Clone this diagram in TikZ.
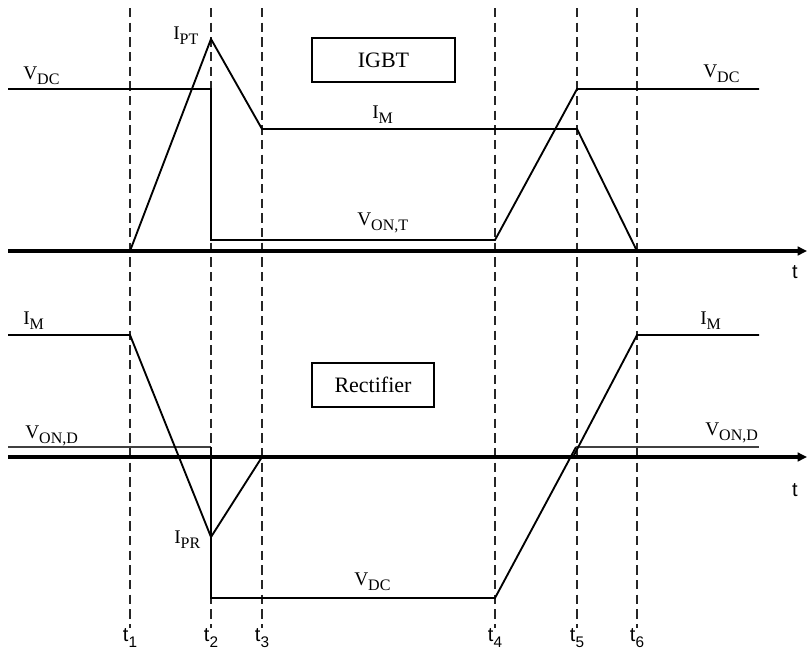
\documentclass[tikz,border=0pt]{standalone}
\usepackage{fontspec}
\setmainfont{Liberation Serif}
\setsansfont{Liberation Sans}
\usetikzlibrary{arrows.meta,positioning}

\newcommand{\sgn}[2]{#1\raisebox{-3.8pt}{\fontsize{12}{12}\selectfont #2}}
\newcommand{\tin}[1]{\textsf{t\raisebox{-4.5pt}{\fontsize{11.5}{11.5}\selectfont #1}}}

\tikzset{
  wave/.style={line width=1.4pt,line join=miter},
  vond/.style={line width=1.1pt,draw=black!75},
  axis/.style={line width=2.6pt,-{Triangle[length=7pt,width=6.5pt]}},
  guide/.style={line width=0.9pt,dash pattern=on 7pt off 4pt,draw=black!85},
  lbl/.style={inner sep=0pt,anchor=base west,font=\fontsize{14.5}{14.5}\selectfont},
  tlbl/.style={inner sep=0pt,font=\fontsize{15}{15}\selectfont\sffamily},
  devbox/.style={draw,line width=0.9pt,inner sep=0pt,font=\fontsize{16.5}{16.5}\selectfont}
}

\begin{document}
\begin{tikzpicture}[x=0.75pt,y=-0.75pt]
\useasboundingbox (0,0) rectangle (807,654);

\foreach \n/\x in {1/130,2/211,3/262,4/495,5/577,6/637}{
  \draw[guide] (\x,8) -- (\x,628);
  \node[tlbl] (t\n) at (\x,638) {\tin{\n}};
}

% IGBT
\draw[axis] (8,251) -- (807,251);
\node[tlbl] (tup) at (795,272) {t};
\draw[wave] (8,89) -- (211,89) -- (211,240) -- (495,240) -- (577,89) -- (759,89);
\draw[wave] (130,251) -- (211,39) -- (262,129) -- (577,129) -- (637,251);
\node[devbox,minimum width=143*0.75pt,minimum height=44*0.75pt] (igbt) at (383.5,60) {IGBT};
\node[lbl] (vdcl) at (23,79) {\sgn{V}{DC}};
\node[lbl] (vdcr) at (703,77) {\sgn{V}{DC}};
\node[lbl] (ipt) at (173,39) {\sgn{I}{PT}};
\node[lbl] (imt) at (372,118) {\sgn{I}{M}};
\node[lbl] (vont) at (357,225) {\sgn{V}{ON,T}};

% Rectifier
\draw[axis] (8,457) -- (807,457);
\node[tlbl] (tdn) at (795,490) {t};
\draw[vond] (8,447) -- (211,447);
\draw[wave] (211,447) -- (211,598) -- (495,598) -- (576,447);
\draw[vond] (576,447) -- (759,447);
\draw[wave] (8,335) -- (130,335) -- (211,537) -- (262,457);
\draw[wave] (573,457) -- (637,335) -- (759,335);
\node[devbox,minimum width=122*0.75pt,minimum height=44*0.75pt] (rect) at (373,385) {Rectifier};
\node[lbl] (iml) at (23,324) {\sgn{I}{M}};
\node[lbl] (imr) at (700,324) {\sgn{I}{M}};
\node[lbl] (vondl) at (25,438) {\sgn{V}{ON,D}};
\node[lbl] (vondr) at (705,435) {\sgn{V}{ON,D}};
\node[lbl] (ipr) at (174,543) {\sgn{I}{PR}};
\node[lbl] (vdcb) at (354,585) {\sgn{V}{DC}};
\end{tikzpicture}
\end{document}
